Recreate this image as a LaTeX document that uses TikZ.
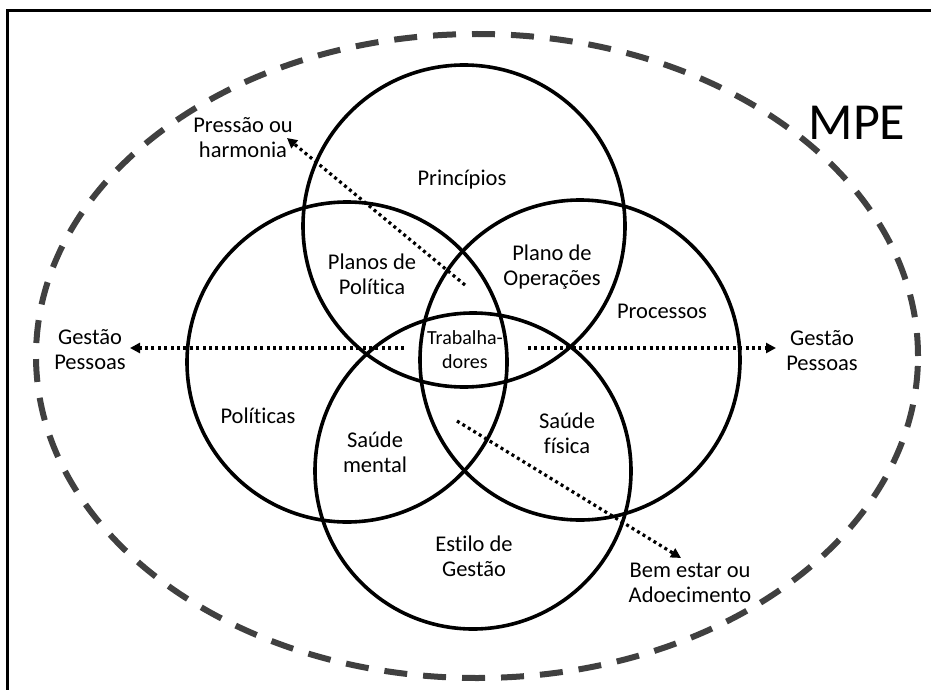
\documentclass[tikz,border=0pt]{standalone}
\usepackage{fontspec}
\setmainfont{Carlito}[Ligatures={NoCommon}]
\usetikzlibrary{arrows.meta}
\begin{document}
\begin{tikzpicture}[x=1pt,y=-1pt,
  ring/.style={circle,draw=black,line width=3.6pt,inner sep=0pt},
  lbl/.style={align=center,inner sep=0pt,text=black,font=\fontsize{22.5}{25}\selectfont},
  small/.style={align=center,inner sep=0pt,text=black,font=\fontsize{20}{24}\selectfont},
  flow/.style={line width=3.2pt,dash pattern=on 3pt off 3.4pt,-{Triangle[length=10pt,width=10pt]}},
  outer/.style={draw=black!75,line width=6pt,dash pattern=on 23pt off 16pt}
]
\useasboundingbox (0,0) rectangle (931,690);
\fill[white] (0,0) rectangle (931,690);
% frame
\draw[line width=3pt] (7,690) -- (7,11) -- (931,11);
% outer dashed ellipse
\draw[outer] (477,356) ellipse [x radius=441pt, y radius=322pt];
% circles
\node[ring,minimum size=322pt] (ctop) at (464,226) {};
\node[ring,minimum size=320pt] (cleft) at (347,362) {};
\node[ring,minimum size=320pt] (cright) at (580,360) {};
\node[ring,minimum size=316pt] (cbot) at (473,471) {};
% labels
\node[font=\fontsize{52}{56}\selectfont,inner sep=0pt] (mpe) at (857,123) {MPE};
\node[lbl] (press) at (243,138) {Pressão ou\\harmonia};
\node[lbl] (princ) at (462,180) {Princípios};
\node[lbl] (planpol) at (372,274) {Planos de\\Política};
\node[lbl] (planop) at (552,267) {Plano de\\Operações};
\node[lbl] (proc) at (662,311) {Processos};
\node[small] (trab) at (465,350) {Trabalha-\\dores};
\node[lbl] (gpl) at (90,350) {Gestão\\Pessoas};
\node[lbl] (gpr) at (822,351) {Gestão\\Pessoas};
\node[lbl] (polit) at (258,416) {Políticas};
\node[lbl] (smental) at (375,452) {Saúde\\mental};
\node[lbl] (sfis) at (567,433) {Saúde\\física};
\node[lbl] (estilo) at (474,556) {Estilo de\\Gestão};
\node[lbl] (bem) at (690,583) {Bem estar ou\\Adoecimento};
% arrow endpoints
\coordinate (a1s) at (404,348);
\coordinate (a1e) at (130,348);
\coordinate (a2s) at (528,348);
\coordinate (a2e) at (776,348);
\coordinate (a3s) at (465,285);
\coordinate (a3e) at (287,138);
\coordinate (a4s) at (457,421);
\coordinate (a4e) at (681,558);
\draw[flow] (a1s) -- (a1e);
\draw[flow] (a2s) -- (a2e);
\draw[flow] (a3s) -- (a3e);
\draw[flow] (a4s) -- (a4e);
\end{tikzpicture}
\end{document}
